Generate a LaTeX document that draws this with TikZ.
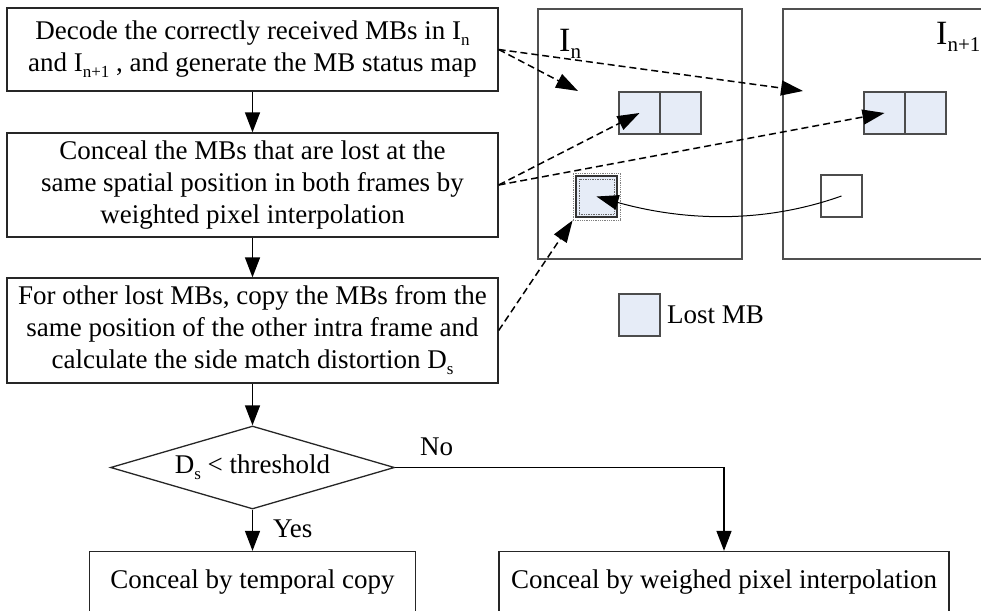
\documentclass[tikz,border=0pt]{standalone}
\usepackage{fontspec}
\setmainfont{Liberation Serif}
\usetikzlibrary{arrows.meta,shapes.geometric}
\definecolor{mbfill}{RGB}{230,236,247}
\definecolor{framecol}{RGB}{80,80,80}
\newcommand\subA[1]{\raisebox{-0.22em}{\fontsize{17}{17}\selectfont #1}}
\newcommand\subB[1]{\raisebox{-0.2em}{\fontsize{21}{21}\selectfont #1}}
\begin{document}
\begin{tikzpicture}[x=1pt,y=-1pt,
  font=\fontsize{27}{32}\selectfont,
  procbox/.style={draw=black!85, line width=1.3pt, align=center, inner sep=0pt},
  flow/.style={line width=1.4pt, -{Triangle[length=20pt,width=15pt]}},
  dashconn/.style={line width=1.5pt, dash pattern=on 7pt off 4pt, -{Triangle[length=22pt,width=15pt]}},
  framebox/.style={draw=framecol, line width=1.3pt, inner sep=0pt},
  mb/.style={draw=black!70, fill=mbfill, line width=1.3pt, minimum width=41pt, minimum height=42pt, inner sep=0pt},
  lbl/.style={inner sep=0pt}
]
\useasboundingbox (0,0) rectangle (981,610);

% frames
\node[framebox, minimum width=204pt, minimum height=250pt] (fA) at (640,134) {};
\node[framebox, minimum width=237pt, minimum height=250pt] (fB) at (901.5,134) {};
\node[lbl, anchor=base west, font=\fontsize{34}{34}\selectfont] (lA) at (559,52) {I\subB{n}};
\node[lbl, anchor=base west, font=\fontsize{34}{34}\selectfont] (lB) at (936,45) {I\subB{n+1}};

% macroblocks
\node[mb] (mbA1) at (639.5,113) {};
\node[mb] (mbA2) at (680.5,113) {};
\node[mb] (mbB1) at (884.5,113) {};
\node[mb] (mbB2) at (925.5,113) {};
\node[draw=gray, densely dotted, line width=0.8pt, minimum width=47pt, minimum height=47pt, inner sep=0pt] (lostouter) at (596.5,196.5) {};
\node[mb, draw=black!80, minimum height=41pt] (lost) at (596.5,196.5) {};
\node[draw=gray!80!black, densely dotted, line width=0.7pt, minimum width=35pt, minimum height=35pt, inner sep=0pt] (lostinner) at (596.5,196.5) {};
\node[draw=black!70, line width=1.3pt, minimum width=41pt, minimum height=42pt, inner sep=0pt] (wsq) at (841.5,196) {};

% legend
\node[mb] (leg) at (639.5,315) {};
\node[lbl, anchor=west] (legt) at (667,315) {Lost MB};

% flowchart
\node[procbox, minimum width=491pt, minimum height=83pt] (b1) at (252.5,49.5)
  {Decode the correctly received MBs in I\subA{n}\\and I\subA{n+1} , and generate the MB status map};
\node[procbox, minimum width=491pt, minimum height=104pt] (b2) at (252.5,185)
  {Conceal the MBs that are lost at the\\same spatial position in both frames by\\weighted pixel interpolation};
\node[procbox, minimum width=491pt, minimum height=105pt] (b3) at (252.5,330.5)
  {For other lost MBs, copy the MBs from the\\same position of the other intra frame and\\calculate the side match distortion D\subA{s}};
\node[draw=black!85, line width=1.3pt, diamond, aspect=3.4, minimum width=284pt, minimum height=83pt, inner sep=0pt] (dec) at (252.5,467.5)
  {D\subA{s} < threshold};
\node[procbox, minimum width=326pt, minimum height=62pt] (bl) at (252.5,582.5) {Conceal by temporal copy};
\node[procbox, minimum width=450pt, minimum height=62pt] (br) at (724,582.5) {Conceal by weighed pixel interpolation};

\node[lbl, anchor=west] (no) at (420,447) {No};
\node[lbl, anchor=west] (yes) at (273,529) {Yes};

\draw[flow] (b1.south) -- (b2.north);
\draw[flow] (b2.south) -- (b3.north);
\draw[flow] (b3.south) -- (dec.north);
\draw[flow] (dec.south) -- (bl.north);
\draw[flow] (dec.east) -| (br.north);

% dashed links
\coordinate (t1) at (578,91);
\coordinate (t2) at (803,91);
\draw[dashconn] (b1.east) -- (t1);
\draw[dashconn] (b1.east) -- (t2);
\draw[dashconn] (b2.east) -- (mbA1.center);
\draw[dashconn] (b2.east) -- (mbB1.center);
\draw[dashconn] (b3.east) -- (lostouter.south west);

% temporal copy curve
\draw[line width=1pt, -{Triangle[length=22pt,width=15pt]}] (wsq.center) .. controls (760,225) and (680,220) .. (lost.center);
\end{tikzpicture}
\end{document}
